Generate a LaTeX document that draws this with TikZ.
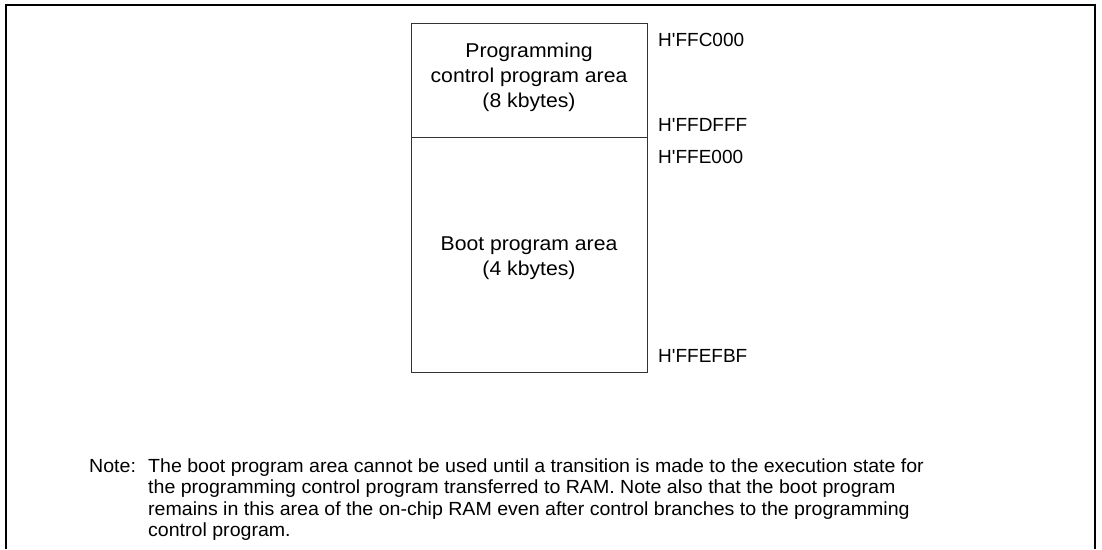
\documentclass[tikz,border=0pt]{standalone}
\usepackage{fontspec}
\setmainfont{Liberation Sans}
\newfontfamily\boxfont[FakeStretch=1.06]{Liberation Sans}
\newfontfamily\notefont[FakeStretch=1.03]{Liberation Sans}
\begin{document}
\begin{tikzpicture}[x=1pt,y=-1pt,
  boxtxt/.style={inner sep=0pt,align=center,font=\boxfont\fontsize{20}{25}\selectfont},
  addr/.style={inner sep=0pt,anchor=base west,font=\fontsize{19}{23}\selectfont},
  notel/.style={inner sep=0pt,anchor=base west,font=\notefont\fontsize{19}{21.5}\selectfont},
  mem/.style={draw=black!80,line width=1pt}]
\useasboundingbox (0,0) rectangle (1102,549);
\draw[line width=1.5pt] (6,549) -- (6,5) -- (1095,5) -- (1095,549);
% memory map
\coordinate (tl) at (411,23);
\coordinate (br) at (647,372);
\coordinate (dl) at (411,137);
\coordinate (dr) at (647,137);
\draw[mem] (tl) rectangle (br);
\draw[mem] (dl) -- (dr);
\node[boxtxt] (pc) at (529,77) {Programming\\control program area\\(8 kbytes)};
\node[boxtxt] (boot) at (529,258) {Boot program area\\(4 kbytes)};
\node[addr] (a1) at (658,46.5) {H\textquotesingle FFC000};
\node[addr] (a2) at (658,131.5) {H\textquotesingle FFDFFF};
\node[addr] (a3) at (658,163.5) {H\textquotesingle FFE000};
\node[addr] (a4) at (658,362.5) {H\textquotesingle FFEFBF};
% note
\node[notel] (nl) at (89,472) {Note:};
\node[notel] (n1) at (148,472) {The boot program area cannot be used until a transition is made to the execution state for};
\node[notel] (n2) at (148,493.5) {the programming control program transferred to RAM. Note also that the boot program};
\node[notel] (n3) at (148,515) {remains in this area of the on-chip RAM even after control branches to the programming};
\node[notel] (n4) at (148,536.5) {control program.};
\end{tikzpicture}
\end{document}
